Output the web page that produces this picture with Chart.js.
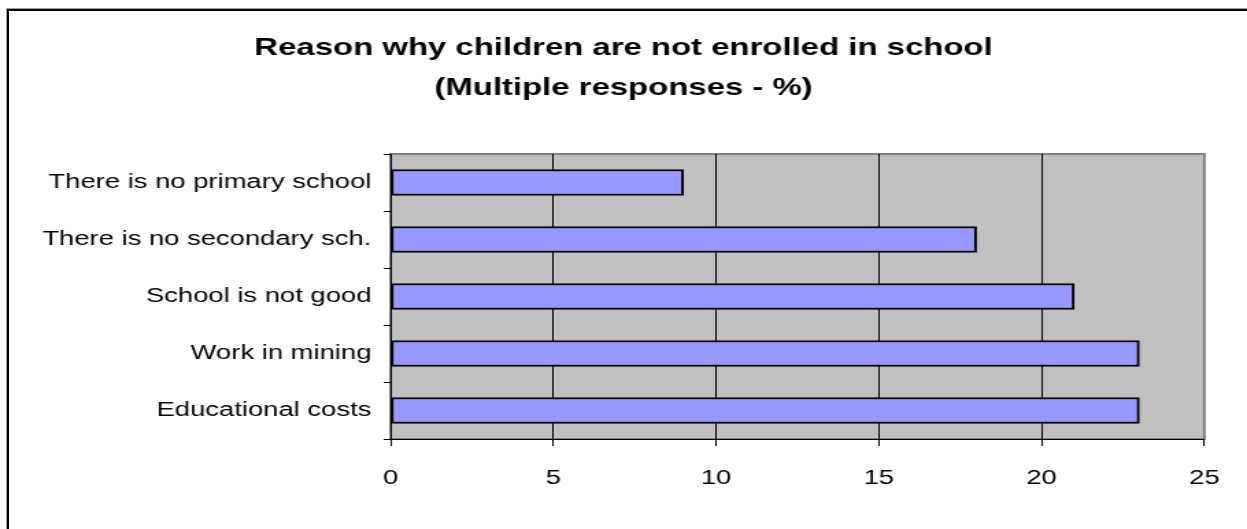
<!DOCTYPE html>
<html>
<head>
<meta charset="utf-8">
<script src="https://cdn.jsdelivr.net/npm/chart.js@4"></script>
<style>
  html, body { margin: 0; padding: 0; background: #fff; overflow: hidden; }
  #wrap { position: relative; width: 1247px; height: 529px; }
  #frame { position: absolute; left: 7px; top: 9px; width: 1400px; height: 700px;
           border-left: 2px solid #000; border-top: 2px solid #000; box-shadow: -1px -1px 0 #a0a0a0; }
  /* the original picture is stretched sideways, so the canvas is drawn narrow and widened */
  #stretch { position: absolute; left: 0; top: 0; width: 910px; height: 529px;
             transform: scaleX(1.37033); transform-origin: 0 0; }
</style>
</head>
<body>
<div id="wrap">
  <div id="frame"></div>
  <div id="stretch"><canvas id="chart" width="910" height="529"></canvas></div>
</div>
<script>
const categories = [
  "There is no primary school",
  "There is no secondary sch.",
  "School is not good",
  "Work in mining",
  "Educational costs"
];
const values = [9, 18, 21, 23, 23];
const titleLines = ["Reason why children are not enrolled in school", "(Multiple responses - %)"];
const xMin = 0, xMax = 25, xStep = 5;

const FONT = "'Liberation Sans', Arial, sans-serif";

// gray plot background with its border
const plotBackground = {
  id: "plotBackground",
  beforeDraw(chart) {
    const { ctx, chartArea: a } = chart;
    ctx.save();
    ctx.fillStyle = "#c0c0c0";
    ctx.fillRect(a.left, a.top, a.right - a.left, a.bottom - a.top);
    ctx.strokeStyle = "#808080";
    ctx.lineWidth = 2;
    ctx.strokeRect(a.left, a.top, a.right - a.left, a.bottom - a.top);
    ctx.restore();
  }
};

new Chart(document.getElementById("chart"), {
  type: "bar",
  data: {
    labels: categories,
    datasets: [{
      data: values,
      backgroundColor: "#9999ff",
      borderColor: "#000",
      borderWidth: 2,
      borderSkipped: false,
      barThickness: 26
    }]
  },
  options: {
    indexAxis: "y",
    responsive: false,
    animation: false,
    layout: { padding: { left: 30, right: 30, top: 0, bottom: 0 } },
    plugins: {
      legend: { display: false },
      tooltip: { enabled: false },
      title: {
        display: true,
        text: titleLines,
        color: "#000",
        font: { family: FONT, size: 24, weight: "bold", lineHeight: 1.667 },
        padding: { top: 28, bottom: 46 }
      }
    },
    scales: {
      x: {
        min: xMin,
        max: xMax,
        ticks: {
          stepSize: xStep,
          color: "#000",
          padding: 20,
          font: { family: FONT, size: 20 }
        },
        grid: {
          color: ctx => (ctx.tick && ctx.tick.value === xMax ? "#808080" : "#000"),
          lineWidth: 1,
          tickLength: 7,
          tickColor: "#000"
        },
        border: { color: "#000", width: 1 },
        afterFit: s => { s.height = 90; }
      },
      y: {
        ticks: {
          color: "#000",
          padding: 9,
          font: { family: FONT, size: 20 }
        },
        grid: {
          offset: true,
          drawOnChartArea: false,
          tickLength: 5,
          color: "#000"
        },
        border: { color: "#000", width: 1 },
        afterFit: s => { s.width = 255; }
      }
    }
  },
  plugins: [plotBackground]
});
</script>
</body>
</html>
